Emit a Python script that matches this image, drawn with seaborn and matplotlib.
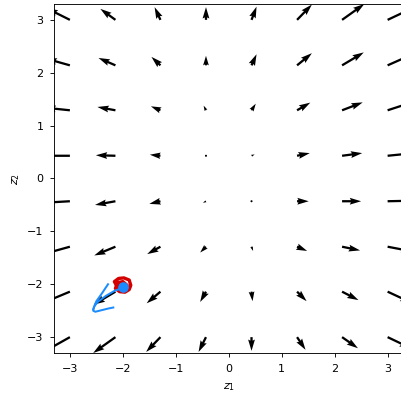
import numpy as np
import pandas as pd
import matplotlib
matplotlib.use("Agg")
import matplotlib.pyplot as plt
import seaborn as sns

# ─── DATA ─────────────────────────────────────────────────────────────────────
grid_x = [-3.0, -2.14, -1.29, -0.43, 0.43, 1.29, 2.14, 3.0]
grid_y = [3.0, 2.14, 1.29, 0.43, -0.43, -1.29, -2.14, -3.0]   # rows, top to bottom

U = [
    [-0.44, -0.284, -0.11, 0.0, 0.095, 0.28, 0.42, 0.55],
    [-0.46, -0.32, -0.17, 0.0, 0.095, 0.28, 0.41, 0.54],
    [-0.48, -0.34, -0.18, -0.044, 0.08, 0.25, 0.39, 0.52],
    [-0.50, -0.37, -0.20, -0.03, 0.06, 0.24, 0.38, 0.50],
    [-0.52, -0.385, -0.21, -0.057, 0.03, 0.22, 0.36, 0.48],
    [-0.54, -0.40, -0.25, -0.11, 0.03, 0.19, 0.34, 0.47],
    [-0.55, -0.41, -0.26, -0.11, 0.02, 0.18, 0.31, 0.45],
    [-0.55, -0.42, -0.27, -0.14, 0.0, 0.16, 0.30, 0.44],
]
V = [
    [0.22, 0.208, 0.24, 0.24, 0.25, 0.29, 0.30, 0.26],
    [0.13, 0.14, 0.16, 0.18, 0.21, 0.23, 0.245, 0.24],
    [0.05, 0.063, 0.075, 0.088, 0.125, 0.145, 0.15, 0.17],
    [0.0, 0.01, 0.02, 0.02, 0.025, 0.05, 0.05, 0.05],
    [-0.03, -0.07, -0.05, -0.03, -0.02, 0.0, 0.0, 0.01],
    [-0.15, -0.165, -0.14, -0.11, -0.08, -0.08, -0.07, -0.09],
    [-0.23, -0.245, -0.22, -0.195, -0.18, -0.18, -0.16, -0.21],
    [-0.31, -0.30, -0.28, -0.28, -0.26, -0.24, -0.21, -0.21],
]

# red (observed) scribble around the start point
red_x = [-2.12, -2.16, -2.08, -1.98, -1.88, -1.85, -1.88, -1.96, -2.06, -2.14,
         -2.10, -2.00, -1.92, -1.95, -2.05, -2.10, -2.02, -1.94, -2.00]
red_y = [-2.02, -1.95, -1.89, -1.88, -1.92, -2.02, -2.10, -2.15, -2.14, -2.08,
         -1.97, -1.95, -2.02, -2.10, -2.10, -2.02, -1.98, -2.06, -2.04]

# blue (predicted) path
blue_x = [-2.00, -2.15, -2.32, -2.47, -2.54, -2.56, -2.52, -2.40, -2.28, -2.18]
blue_y = [-2.07, -2.12, -2.22, -2.33, -2.42, -2.50, -2.52, -2.49, -2.46, -2.44]
barb_x = [-2.28, -2.40, -2.50, -2.56]
barb_y = [-2.00, -2.18, -2.32, -2.47]

start_x, start_y = -2.00, -2.06

# ─── PLOT ─────────────────────────────────────────────────────────────────────
fig = plt.figure(figsize=(401 / 80, 394 / 80), dpi=80)
ax = fig.add_axes([54 / 401, 41 / 394, 349.5 / 401, 349 / 394])

X, Y = np.meshgrid(grid_x, grid_y)
ax.quiver(X, Y, np.array(U), np.array(V), angles="xy", scale_units="xy",
          scale=1, width=0.0065, color="black", zorder=2)

red_df = pd.DataFrame({"x": red_x, "y": red_y})
blue_df = pd.DataFrame({"x": blue_x, "y": blue_y})
barb_df = pd.DataFrame({"x": barb_x, "y": barb_y})
sns.lineplot(data=red_df, x="x", y="y", sort=False, estimator=None,
             color="#d40000", linewidth=3, ax=ax, zorder=3)
sns.lineplot(data=blue_df, x="x", y="y", sort=False, estimator=None,
             color="#1a8cff", linewidth=1.8, ax=ax, zorder=4)
sns.lineplot(data=barb_df, x="x", y="y", sort=False, estimator=None,
             color="#1a8cff", linewidth=1.8, ax=ax, zorder=4)
ax.plot([start_x], [start_y], "o", color="#1a8cff", markersize=8.5, zorder=5)

ax.set_xlim(-3.3, 3.3)
ax.set_ylim(-3.3, 3.3)
ax.set_xticks([-3, -2, -1, 0, 1, 2, 3])
ax.set_yticks([-3, -2, -1, 0, 1, 2, 3])
ax.tick_params(axis="both", pad=6)
ax.set_xlabel("$z_1$", labelpad=7)
ax.set_ylabel("$z_2$", labelpad=4)

fig.savefig("out.png", dpi=80)
